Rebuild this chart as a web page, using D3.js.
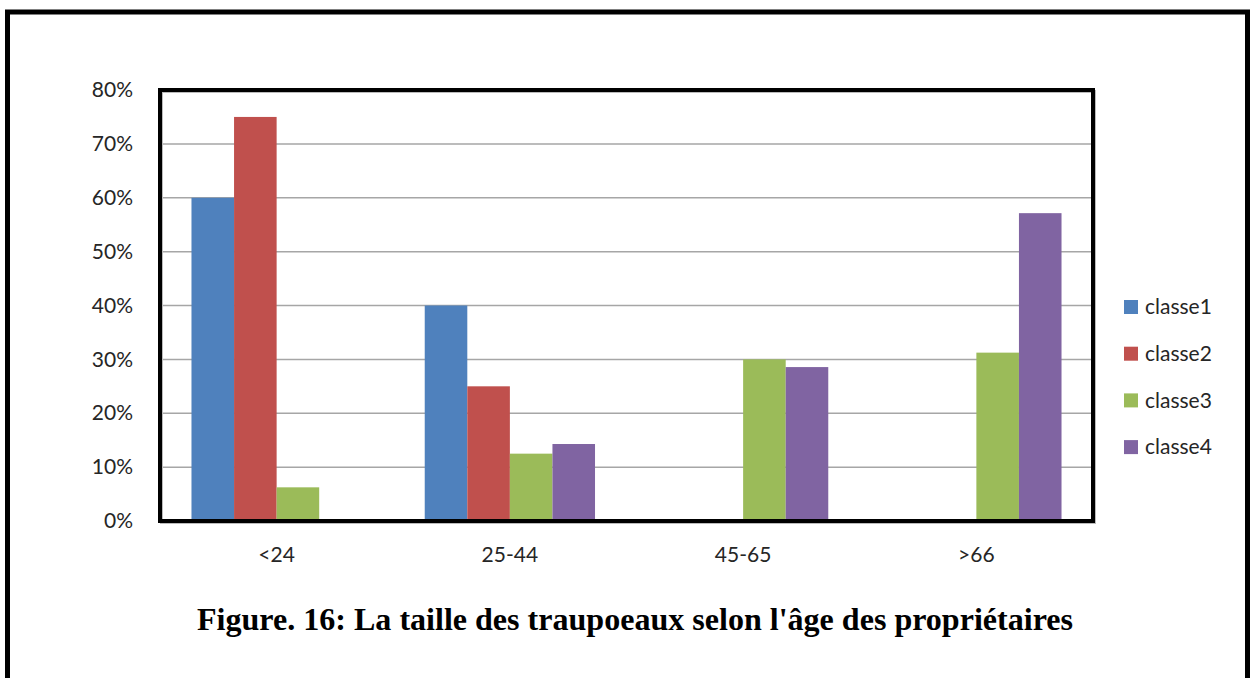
<!DOCTYPE html>
<html>
<head>
<meta charset="utf-8">
<script src="https://cdn.jsdelivr.net/npm/d3@7"></script>
<style>
  html, body { margin: 0; padding: 0; background: #fff; }
  svg { display: block; }
</style>
</head>
<body>
<script>
const categories = ["<24", "25-44", "45-65", ">66"];
const seriesNames = ["classe1", "classe2", "classe3", "classe4"];
const classe1 = [0.60, 0.40, 0, 0];
const classe2 = [0.75, 0.25, 0, 0];
const classe3 = [0.0625, 0.125, 0.30, 0.3125];
const classe4 = [0, 0.1429, 0.2857, 0.5714];
const yTicks = [0, 0.1, 0.2, 0.3, 0.4, 0.5, 0.6, 0.7, 0.8];
const colors = ["#4f81bd", "#c0504d", "#9bbb59", "#8064a2"];
const titleText = "Figure. 16: La taille des traupoeaux selon l'âge des propriétaires";

const seriesValues = [classe1, classe2, classe3, classe4];
const W = 1250, H = 678;
const svg = d3.select("body").append("svg").attr("width", W).attr("height", H);

// outer frame
svg.append("rect").attr("x", 7.5).attr("y", 12).attr("width", 1240).attr("height", 720)
  .attr("fill", "#fff").attr("stroke", "#000").attr("stroke-width", 5);

const plot = { left: 160, right: 1093, top: 90, bottom: 521 };

const x0 = d3.scaleBand().domain(categories).range([plot.left, plot.right]).paddingInner(0).paddingOuter(0);
const x1 = d3.scaleBand().domain(seriesNames).range([0, x0.bandwidth()]).paddingInner(0).paddingOuter(63 / 42.6 / 2);
const y = d3.scaleLinear().domain([0, 0.8]).range([plot.bottom, plot.top]);

// gridlines
svg.append("g").selectAll("line").data(yTicks.filter(t => t > 0 && t < 0.8)).join("line")
  .attr("x1", plot.left).attr("x2", plot.right)
  .attr("y1", d => y(d)).attr("y2", d => y(d))
  .attr("stroke", "#a6a6a6").attr("stroke-width", 1.5);

// bars
const groups = svg.append("g").selectAll("g").data(categories).join("g")
  .attr("transform", d => `translate(${x0(d)},0)`);
groups.selectAll("rect").data((c, i) => seriesNames.map((s, j) => ({ s, j, v: seriesValues[j][i] })))
  .join("rect")
  .attr("x", d => x1(d.s)).attr("width", x1.bandwidth())
  .attr("y", d => y(d.v)).attr("height", d => y(0) - y(d.v))
  .attr("fill", d => colors[d.j]);

// plot border shadow + border
svg.append("rect").attr("x", plot.left + 1.5).attr("y", plot.top + 1.5)
  .attr("width", plot.right - plot.left).attr("height", plot.bottom - plot.top)
  .attr("fill", "none").attr("stroke", "#bbb").attr("stroke-width", 3);
svg.append("rect").attr("x", plot.left).attr("y", plot.top)
  .attr("width", plot.right - plot.left).attr("height", plot.bottom - plot.top)
  .attr("fill", "none").attr("stroke", "#000").attr("stroke-width", 4);

const FONT = "Lato, 'Open Sans', sans-serif";

// y axis labels
const yAxis = d3.axisLeft(y).tickValues(yTicks).tickFormat(d3.format(".0%")).tickSize(0).tickPadding(27);
const ya = svg.append("g").attr("transform", `translate(${plot.left},0)`).call(yAxis);
ya.select(".domain").remove();
ya.selectAll("text").attr("font-family", FONT).attr("font-size", 21).attr("fill", "#262626");

// x axis labels
const xAxis = d3.axisBottom(x0).tickSize(0).tickPadding(26);
const xa = svg.append("g").attr("transform", `translate(0,${plot.bottom})`).call(xAxis);
xa.select(".domain").remove();
xa.selectAll("text").attr("font-family", FONT).attr("font-size", 21).attr("fill", "#262626");

// legend
const leg = svg.append("g").selectAll("g").data(seriesNames).join("g")
  .attr("transform", (d, i) => `translate(1124,${307 + i * 46.7})`);
leg.append("rect").attr("x", 0).attr("y", -7).attr("width", 14).attr("height", 14)
  .attr("fill", (d, i) => colors[i]);
leg.append("text").attr("x", 21).attr("y", 0).attr("dy", "0.35em")
  .attr("font-family", FONT).attr("font-size", 21).attr("fill", "#262626")
  .text(d => d);

// title
svg.append("text").attr("x", 635).attr("y", 630).attr("text-anchor", "middle")
  .attr("font-family", "'Liberation Serif', 'Times New Roman', serif").attr("font-weight", "bold")
  .attr("font-size", 32).attr("fill", "#000")
  .attr("textLength", 876).attr("lengthAdjust", "spacingAndGlyphs")
  .text(titleText);
</script>
</body>
</html>
